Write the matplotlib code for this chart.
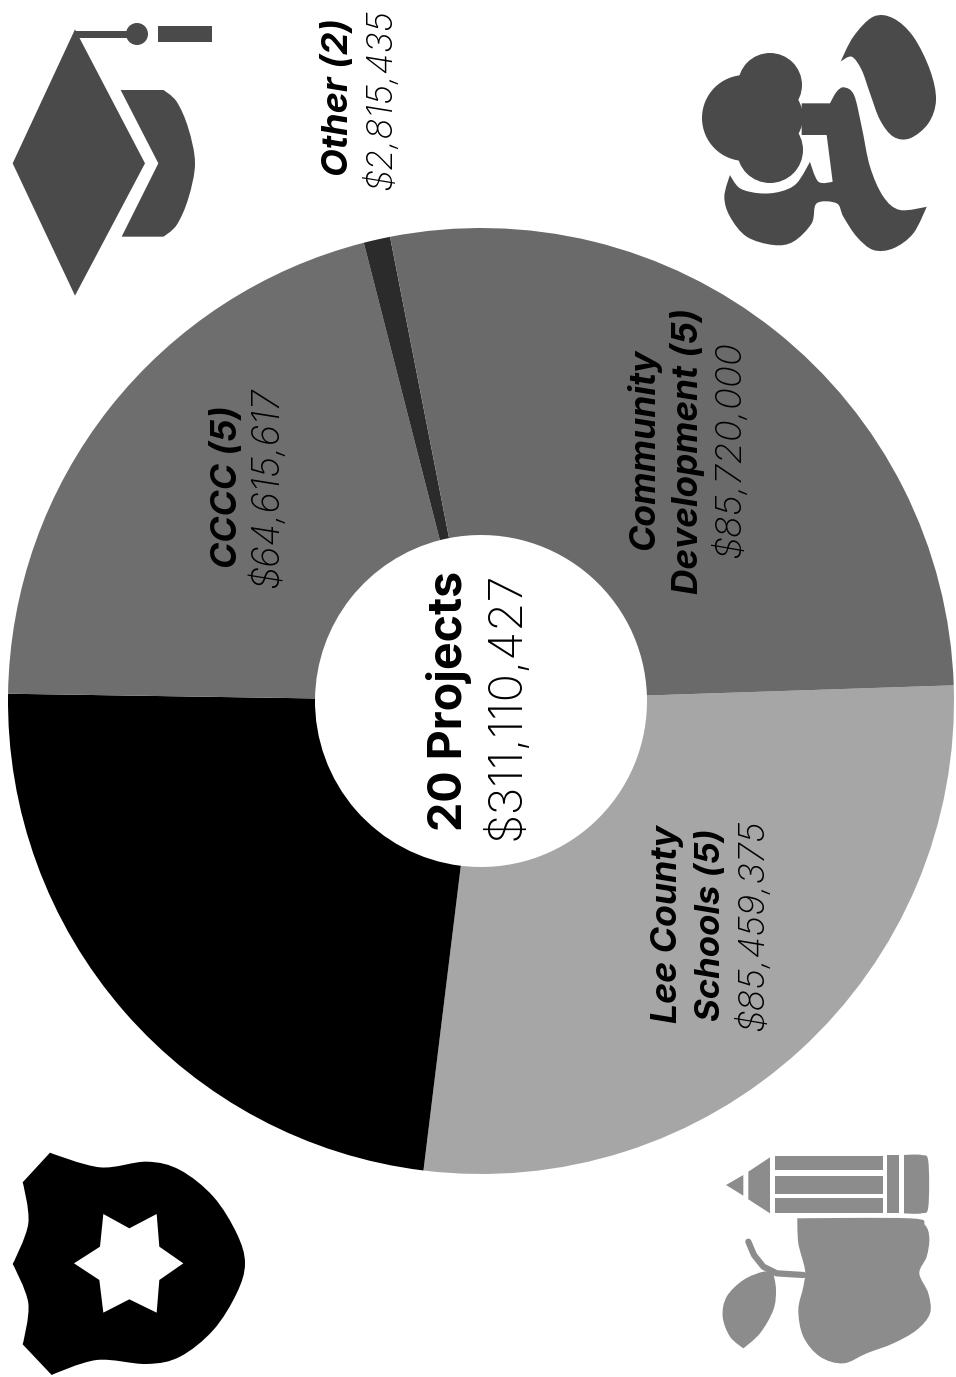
import numpy as np
import matplotlib
matplotlib.use("Agg")
import matplotlib.pyplot as plt
from matplotlib.patches import Circle, PathPatch, Polygon, Rectangle
from matplotlib.path import Path

# spending by group, the black slice has no readable label
categories = ["Lee County Schools", "Public Safety", "CCCC", "Other", "Community Development"]
amounts = [85459375, 72500000, 64615617, 2815435, 85720000]
slice_colors = ["#a6a6a6", "#000000", "#6e6e6e", "#2b2b2b", "#6a6a6a"]

total_label = "$311,110,427"
project_label = "20 Projects"

W, H = 956, 1377
FONT = "Inter"


def smooth(pts, off=(0, 0), k=3.0):
    # closed catmull-rom outline, a repeated point gives a hard corner
    p = np.array(pts, dtype=float) / k + np.array(off)
    n = len(p)
    tan = np.zeros_like(p)
    for i in range(n):
        a, b, c = p[i - 1], p[i], p[(i + 1) % n]
        if not (np.allclose(a, b) or np.allclose(b, c)):
            tan[i] = (c - a) / 6
    verts = [p[0]]
    codes = [Path.MOVETO]
    for i in range(n):
        j = (i + 1) % n
        verts += [p[i] + tan[i], p[j] - tan[j], p[j]]
        codes += [Path.CURVE4] * 3
    return Path(verts, codes)


def poly(pts, off=(0, 0), k=3.0):
    return np.array(pts, dtype=float) / k + np.array(off)


def draw_cap(ax, c):
    ax.add_patch(Polygon(poly([(225, 88), (435, 490), (225, 887), (38, 490)]), color=c, lw=0))
    ax.add_patch(Polygon(poly([(225, 92), (400, 92), (400, 115), (235, 115)]), color=c, lw=0))
    ax.add_patch(Circle((137, 34), 11, color=c, lw=0))
    ax.add_patch(Rectangle((158, 26), 54, 16, color=c, lw=0))
    gown = [(362, 270), (362, 270), (490, 270), (490, 270), (530, 305), (565, 385), (585, 490),
            (565, 595), (530, 675), (490, 710), (490, 710), (365, 710), (365, 710),
            (475, 490), (475, 490)]
    ax.add_patch(PathPatch(smooth(gown), color=c, lw=0))


def draw_monogram(ax, c):
    off = (680, 0)
    for x, y, r in [(770, 85, 32), (745, 118, 43), (770, 150, 33), (770, 117, 33)]:
        ax.add_patch(Circle((x, y), r, color=c, lw=0))
    body = [(450, 310), (470, 275), (492, 262), (522, 285), (545, 380), (570, 500), (610, 590),
            (660, 630), (740, 620), (740, 620), (700, 700), (640, 745), (580, 750), (530, 710),
            (490, 650), (470, 610), (410, 610), (395, 670), (340, 725), (280, 735), (200, 710),
            (150, 650), (133, 590), (150, 525), (150, 525), (180, 565), (240, 580), (300, 575),
            (350, 550), (390, 485), (390, 485), (415, 545), (458, 545), (458, 545), (440, 405),
            (440, 405), (365, 405), (365, 405), (365, 310), (365, 310), (450, 310)]
    ax.add_patch(PathPatch(smooth(body, off), color=c, lw=0))
    drop = [(482, 185), (482, 185), (520, 110), (580, 50), (640, 55), (700, 110), (750, 210),
            (768, 300), (745, 370), (690, 415), (640, 410), (600, 360), (570, 280), (545, 210),
            (515, 170)]
    ax.add_patch(PathPatch(smooth(drop, off), color=c, lw=0))


def draw_apple(ax, c):
    off = (680, 1130)
    ax.add_patch(Polygon(poly([(138, 165), (190, 135), (190, 197)], off), color=c, lw=0))
    ax.add_patch(Polygon(poly([(205, 125), (270, 82), (270, 250), (205, 208)], off), color=c, lw=0))
    for y0, y1 in [(77, 120), (137, 192), (205, 250)]:
        ax.add_patch(Polygon(poly([(285, y0), (608, y0), (608, y1), (285, y1)], off), color=c, lw=0))
    ax.add_patch(Polygon(poly([(620, 75), (658, 75), (658, 250), (620, 250)], off), color=c, lw=0))
    cap = [(672, 75), (672, 75), (725, 75), (745, 95), (745, 230), (725, 250), (672, 250), (672, 250)]
    ax.add_patch(PathPatch(smooth(cap, off), color=c, lw=0))
    apple = [(352, 265), (352, 265), (690, 265), (735, 285), (748, 325), (740, 380), (718, 430),
             (745, 490), (750, 550), (710, 600), (640, 640), (560, 670), (490, 700), (420, 680),
             (370, 620), (355, 540), (370, 470), (375, 420), (355, 340)]
    ax.add_patch(PathPatch(smooth(apple, off), color=c, lw=0))
    leaf = [(250, 425), (190, 450), (140, 500), (128, 560), (150, 620), (190, 655), (190, 655),
            (240, 610), (280, 540), (288, 480), (280, 430), (280, 430)]
    ax.add_patch(PathPatch(smooth(leaf, off), color=c, lw=0))
    stem = poly([(205, 335), (222, 375), (250, 410), (290, 430), (370, 435)], off)
    ax.plot(stem[:, 0], stem[:, 1], color=c, lw=4.5, solid_capstyle="round")


def draw_shield(ax, c):
    off = (0, 1130)
    outline = [(150, 68), (150, 68), (300, 112), (440, 95), (540, 120), (640, 200), (710, 310),
               (735, 400), (710, 490), (640, 600), (540, 680), (440, 702), (290, 690),
               (155, 735), (155, 735), (68, 643), (68, 643), (85, 520), (38, 402), (38, 402),
               (85, 280), (68, 157), (68, 157)]
    ax.add_patch(PathPatch(smooth(outline, off), color=c, lw=0))
    star = [(222, 400), (300, 350), (310, 252), (388, 295), (470, 252), (478, 350),
            (550, 400), (478, 450), (470, 548), (388, 508), (310, 548), (298, 450)]
    ax.add_patch(Polygon(poly(star, off), color="white", lw=0))


def vtext(ax, x, y, s, size, weight="bold", style="normal"):
    ax.text(x, y, s, rotation=90, ha="center", va="center", fontsize=size, color="black",
            family=FONT, fontweight=weight, fontstyle=style)


def main():
    fig = plt.figure(figsize=(W / 100, H / 100), dpi=100, facecolor="white")

    # donut sits in its own square axes
    cx, cy, r = 481, 701, 473
    pie_ax = fig.add_axes([(cx - r) / W, 1 - (cy + r) / H, 2 * r / W, 2 * r / H])
    pie_ax.pie(amounts, colors=slice_colors, startangle=1.9, counterclock=False,
               radius=1, wedgeprops={"width": 1 - 166 / 473, "linewidth": 0})
    pie_ax.set_xlim(-1, 1)
    pie_ax.set_ylim(-1, 1)

    # overlay in pixel units for icons and labels
    ax = fig.add_axes([0, 0, 1, 1], facecolor="none")
    ax.set_xlim(0, W)
    ax.set_ylim(H, 0)
    ax.axis("off")

    draw_cap(ax, "#4a4a4a")
    draw_monogram(ax, "#4a4a4a")
    draw_apple(ax, "#8c8c8c")
    draw_shield(ax, "#000000")

    vtext(ax, 449, 701, project_label, 33.5, weight="bold")
    vtext(ax, 507, 706, total_label, 34, weight="light")

    vtext(ax, 339, 97, "Other (2)", 26, style="italic")
    vtext(ax, 380, 99, "$2,815,435", 25.3, weight="light", style="italic")

    vtext(ax, 228, 487, "CCCC (5)", 25.6, style="italic")
    vtext(ax, 268, 488, "$64,615,617", 26.6, weight="light", style="italic")

    vtext(ax, 644, 449, "Community", 25.6, style="italic")
    vtext(ax, 688, 451, "Development (5)", 25.3, style="italic")
    vtext(ax, 729, 450, "$85,720,000", 26.3, weight="light", style="italic")

    vtext(ax, 668, 924, "Lee County", 25.7, style="italic")
    vtext(ax, 711, 925, "Schools (5)", 25, style="italic")
    vtext(ax, 752, 925, "$85,459,375", 26, weight="light", style="italic")

    fig.savefig("out.png", dpi=100, facecolor="white")


if __name__ == "__main__":
    main()
